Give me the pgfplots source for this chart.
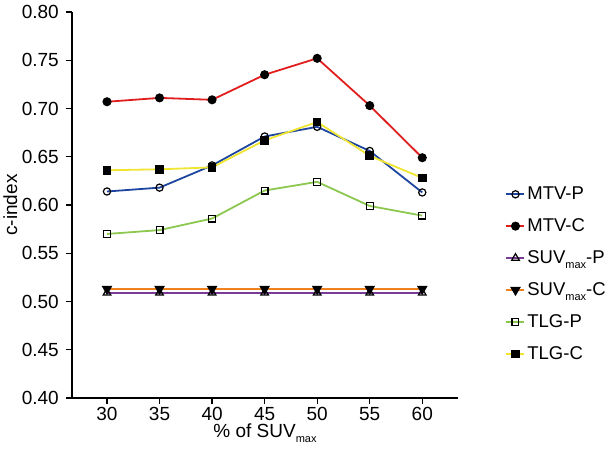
\documentclass[border=0pt]{standalone}
\usepackage{fontspec}
\setmainfont{Liberation Sans}
\usepackage{pgfplots}
\pgfplotsset{compat=1.18}
\definecolor{cred}{RGB}{225,30,30}
\definecolor{cblue}{RGB}{30,70,160}
\definecolor{cpurple}{RGB}{120,60,150}
\definecolor{corange}{RGB}{240,130,30}
\definecolor{cgreen}{RGB}{140,200,80}
\definecolor{cyellow}{RGB}{240,230,50}
\newcommand{\mx}{\raisebox{-4.5pt}{\fontsize{11}{12}\selectfont max}}
\begin{document}
\begin{tikzpicture}
\begin{axis}[
  name=ax, at={(0,0)}, anchor=south west,
  scale only axis, width=386pt, height=386pt,
  xmin=26.67, xmax=63.4, ymin=0.40, ymax=0.80,
  axis lines=left, axis line style={line width=1.3pt,-},
  xtick={30,35,40,45,50,55,60},
  ytick={0.40,0.45,...,0.80},
  tick style={line width=1.3pt,black},
  tick align=outside, major tick length=6pt,
  tick label style={font=\fontsize{19}{21}\selectfont},
  label style={font=\fontsize{19}{21}\selectfont},
  yticklabel style={/pgf/number format/fixed,/pgf/number format/fixed zerofill,/pgf/number format/precision=2,inner sep=1pt,anchor=east,xshift=-6pt},
  xticklabel style={inner sep=0pt,anchor=base,yshift=-16pt},
  /pgf/number format/assume math mode=true,
  ylabel={c-index},
  xlabel={\% of SUV\mx},
  ylabel style={at={(axis description cs:-0.16,0.5)},anchor=center},
  xlabel style={at={(axis description cs:0.5,-0.103)},anchor=base,inner sep=0pt},
  legend style={at={(axis description cs:1.115,0.557)},anchor=north west,draw=none,fill=none,row sep=13.5pt,font=\fontsize{18.5}{21}\selectfont,
    /tikz/every even column/.append style={column sep=2pt}},
  legend cell align=left,
  legend image code/.code={\draw[mark repeat=2,mark phase=2,#1,line width=1.8pt] plot coordinates {(0pt,0pt)(9pt,0pt)(18pt,0pt)};},
  clip=false,
]
\addplot[cblue,line width=1.8pt,mark=o,mark size=3.6pt,mark options={black,fill=white,line width=1.2pt}] coordinates {(30,0.614)(35,0.618)(40,0.641)(45,0.671)(50,0.681)(55,0.656)(60,0.613)};
\addlegendentry{MTV-P}
\addplot[cred,line width=1.8pt,mark=*,mark size=3.6pt,mark options={black,fill=black}] coordinates {(30,0.707)(35,0.711)(40,0.709)(45,0.735)(50,0.752)(55,0.703)(60,0.649)};
\addlegendentry{MTV-C}
\addplot[cpurple,line width=1.8pt,mark=triangle,mark size=4.4pt,mark options={black,fill=white,line width=1.2pt}] coordinates {(30,0.509)(35,0.509)(40,0.509)(45,0.509)(50,0.509)(55,0.509)(60,0.509)};
\addlegendentry{SUV\mx-P}
\addplot[corange,line width=1.8pt,mark=triangle*,mark size=4.4pt,mark options={black,fill=black,rotate=180}] coordinates {(30,0.513)(35,0.513)(40,0.513)(45,0.513)(50,0.513)(55,0.513)(60,0.513)};
\addlegendentry{SUV\mx-C}
\addplot[cgreen,line width=1.8pt,mark=square,mark size=3.4pt,mark options={black,fill=white,line width=1.2pt}] coordinates {(30,0.570)(35,0.574)(40,0.586)(45,0.615)(50,0.624)(55,0.599)(60,0.589)};
\addlegendentry{TLG-P}
\addplot[cyellow,line width=1.8pt,mark=square*,mark size=3.4pt,mark options={black,fill=black}] coordinates {(30,0.636)(35,0.637)(40,0.639)(45,0.667)(50,0.686)(55,0.651)(60,0.628)};
\addlegendentry{TLG-C}
\end{axis}
\pgfresetboundingbox
\path[use as bounding box] (-72pt,-50pt) rectangle (541pt,398pt);
\end{tikzpicture}
\end{document}
